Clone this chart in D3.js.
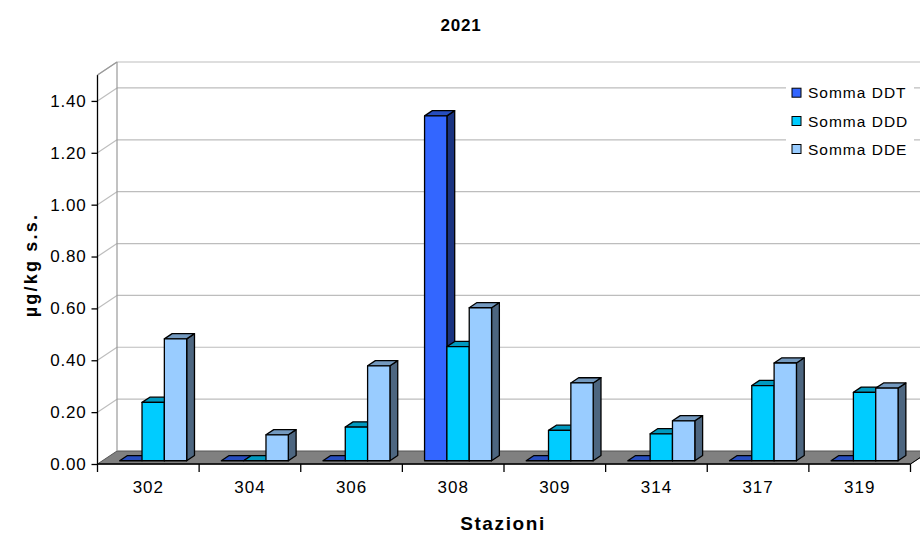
<!DOCTYPE html>
<html>
<head>
<meta charset="utf-8">
<script src="https://cdn.jsdelivr.net/npm/d3@7"></script>
<style>
  html, body { margin: 0; padding: 0; background: #fff; }
  svg { display: block; font-family: "Liberation Sans", Arial, sans-serif; }
</style>
</head>
<body>
<svg id="chart" width="920" height="537"></svg>
<script>
// ---- data ----
const categories = ["302", "304", "306", "308", "309", "314", "317", "319"];
const seriesNames = ["Somma DDT", "Somma DDD", "Somma DDE"];
const ddt = [0, 0, 0, 1.33, 0, 0, 0, 0];
const ddd = [0.225, 0, 0.13, 0.44, 0.117, 0.104, 0.29, 0.264];
const dde = [0.47, 0.10, 0.366, 0.59, 0.30, 0.154, 0.377, 0.28];
const yTicks = [0, 0.2, 0.4, 0.6, 0.8, 1.0, 1.2, 1.4];
const yMax = 1.5;
const colors = ["#3366FF", "#00CCFF", "#99CCFF"];
const titleText = "2021";
const yTitle = "µg/kg s.s.";
const xTitle = "Stazioni";

const seriesValues = [ddt, ddd, dde];

(function () {
// ---- geometry ----
const svg = d3.select("#chart");
const pLeft = 97.5, pRight = 910.5, pBottom = 464, pTop = 75;
const depth = { dx: 19.5, dy: -13 };           // wall depth
const barFront = 0.25, barBack = 0.65;           // bar depth fractions

const x = d3.scaleBand().domain(categories).range([pLeft, pRight]).padding(0);
const y = d3.scaleLinear().domain([0, yMax]).range([pBottom, pTop]);
const groupW = 67;
const xs = d3.scaleBand().domain(seriesNames).range([0, groupW]).padding(0);

const shade = (c, k) => { const r = d3.rgb(c); return d3.rgb(r.r * k, r.g * k, r.b * k).formatHex(); };
const off = f => [depth.dx * f, depth.dy * f];
const pts = a => a.map(p => p.join(",")).join(" ");

const grid = "#BDBDBD";

// floor
const [bx, by] = off(1);
svg.append("polygon")
  .attr("points", pts([[pLeft, pBottom], [pRight, pBottom], [pRight + bx, pBottom + by], [pLeft + bx, pBottom + by]]))
  .attr("fill", "#808080").attr("stroke", "#555").attr("stroke-width", 1);

// back wall gridlines
svg.append("g").selectAll("line").data(yTicks.slice(1).concat([yMax])).join("line")
  .attr("x1", pLeft + bx).attr("x2", pRight + bx + 40)
  .attr("y1", d => y(d) + by).attr("y2", d => y(d) + by)
  .attr("stroke", grid).attr("stroke-width", 1.2);
// left wall diagonals
svg.append("g").selectAll("line").data(yTicks.slice(1).concat([yMax])).join("line")
  .attr("x1", pLeft).attr("x2", pLeft + bx)
  .attr("y1", d => y(d)).attr("y2", d => y(d) + by)
  .attr("stroke", grid).attr("stroke-width", 1.2);
// back wall left edge
svg.append("line").attr("x1", pLeft + bx).attr("x2", pLeft + bx)
  .attr("y1", y(yMax) + by).attr("y2", y(0) + by)
  .attr("stroke", "#999").attr("stroke-width", 1.2);

// bars
const [fx, fy] = off(barFront);
const [kx, ky] = off(barBack - barFront);
const bars = [];
categories.forEach((c, i) => {
  seriesNames.forEach((s, j) => {
    bars.push({ c, s, j, v: seriesValues[j][i] });
  });
});
const bg = svg.append("g").attr("stroke", "#000").attr("stroke-width", 1.3).attr("stroke-linejoin", "round");
bars.forEach(b => {
  const x0 = x(b.c) + x.bandwidth() / 2 - groupW / 2 + xs(b.s) + fx;
  const x1 = x0 + xs.bandwidth();
  const y0 = y(0) + fy;
  const yt = y(b.v) + fy;
  const col = colors[b.j];
  if (b.v > 0) {
    bg.append("polygon").attr("points", pts([[x1, y0], [x1 + kx, y0 + ky], [x1 + kx, yt + ky], [x1, yt]]))
      .attr("fill", shade(col, 0.5));
  }
  bg.append("polygon").attr("points", pts([[x0, yt], [x0 + kx, yt + ky], [x1 + kx, yt + ky], [x1, yt]]))
    .attr("fill", shade(col, 0.75));
  if (b.v > 0) {
    bg.append("rect").attr("x", x0).attr("y", yt).attr("width", x1 - x0).attr("height", y0 - yt)
      .attr("fill", col);
  }
});

// floor right edge (front part)
svg.append("line").attr("x1", pRight).attr("y1", pBottom).attr("x2", pRight + bx).attr("y2", pBottom + by)
  .attr("stroke", "#000").attr("stroke-width", 1);

// y axis
const yAxis = d3.axisLeft(y).tickValues(yTicks).tickFormat(d3.format(".2f")).tickSize(6).tickPadding(5);
const ya = svg.append("g").attr("transform", `translate(${pLeft},0)`).call(yAxis);
ya.select(".domain").attr("d", `M0,${y(yMax)}V${y(0)}`).attr("stroke", "#000").attr("stroke-width", 1.3);
ya.selectAll(".tick line").attr("stroke", "#000").attr("stroke-width", 1.3);
ya.selectAll(".tick text").attr("font-size", 17).attr("fill", "#000")
  .attr("font-family", "Liberation Sans, Arial, sans-serif").attr("letter-spacing", 0.8);
// top diagonal of left wall
svg.append("line").attr("x1", pLeft).attr("y1", y(yMax)).attr("x2", pLeft + bx).attr("y2", y(yMax) + by)
  .attr("stroke", "#999").attr("stroke-width", 1.2);

// x axis
const xAxis = d3.axisBottom(x).tickSize(0).tickPadding(17);
const xa = svg.append("g").attr("transform", `translate(0,${pBottom})`).call(xAxis);
xa.select(".domain").attr("d", `M${pLeft},0H${pRight}`).attr("stroke", "#000").attr("stroke-width", 1.3);
xa.selectAll(".tick text").attr("font-size", 17).attr("fill", "#000")
  .attr("font-family", "Liberation Sans, Arial, sans-serif").attr("letter-spacing", 1);
// boundary ticks
const bounds = categories.map(c => x(c)).concat([pRight]);
xa.selectAll("line.bound").data(bounds).join("line").attr("class", "bound")
  .attr("x1", d => d).attr("x2", d => d).attr("y1", 0).attr("y2", 8)
  .attr("stroke", "#000").attr("stroke-width", 1.3);

// titles
svg.append("text").attr("x", 461).attr("y", 31).attr("text-anchor", "middle")
  .attr("font-size", 17).attr("font-weight", "bold").attr("letter-spacing", 0.8).text(titleText);
svg.append("text").attr("transform", `translate(37,265) rotate(-90)`).attr("text-anchor", "middle")
  .attr("font-size", 18).attr("font-weight", "bold").attr("letter-spacing", 2.2).text(yTitle);
svg.append("text").attr("x", 503).attr("y", 530).attr("text-anchor", "middle")
  .attr("font-size", 19).attr("font-weight", "bold").attr("letter-spacing", 1.6).text(xTitle);

// legend
const lg = svg.append("g");
lg.append("rect").attr("x", 786).attr("y", 78).attr("width", 128).attr("height", 86).attr("fill", "#fff");
const ly = [92.7, 121, 149];
seriesNames.forEach((s, j) => {
  lg.append("rect").attr("x", 792).attr("y", ly[j] - 4.5).attr("width", 9).attr("height", 9)
    .attr("fill", colors[j]).attr("stroke", "#000").attr("stroke-width", 1);
  lg.append("text").attr("x", 808).attr("y", ly[j] + 5.5).attr("font-size", 15.5)
    .attr("letter-spacing", 1).text(s);
});
})();
</script>
</body>
</html>
